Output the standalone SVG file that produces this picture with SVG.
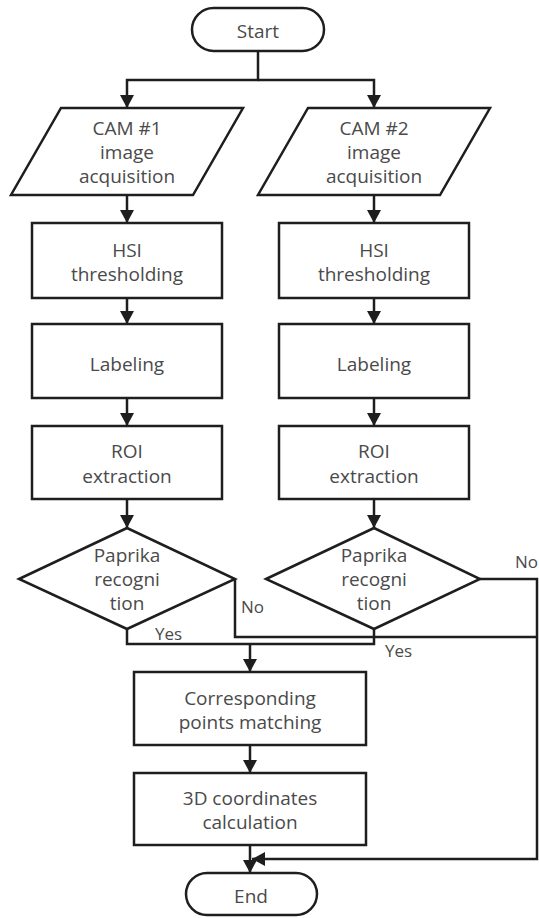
<svg xmlns="http://www.w3.org/2000/svg" width="539" height="918" viewBox="0 0 539 918">
<defs>
<style>
.s{fill:#fff;stroke:#1e1e1e;stroke-width:2.5}
.t{font-family:"Open Sans","Noto Sans",sans-serif;font-size:19px;fill:#4a4a4a;text-anchor:middle}
.l{font-family:"Open Sans","Noto Sans",sans-serif;font-size:17px;fill:#4a4a4a}
.c{fill:none;stroke:#1e1e1e;stroke-width:2.5}
</style>
<marker id="ah" viewBox="0 0 13 14" refX="13" refY="7" markerWidth="13" markerHeight="14" markerUnits="userSpaceOnUse" orient="auto">
<path d="M0,0 L13,7 L0,14 z" fill="#1e1e1e"/>
</marker>
</defs>
<rect width="539" height="918" fill="#fff"/>
<g id="connectors">
<path class="c" d="M258,51 V80 H127 V108" marker-end="url(#ah)"/>
<path class="c" d="M258,80 H374 V108" marker-end="url(#ah)"/>
<path class="c" d="M127,195 V223" marker-end="url(#ah)"/>
<path class="c" d="M374,195 V223" marker-end="url(#ah)"/>
<path class="c" d="M127,298 V324" marker-end="url(#ah)"/>
<path class="c" d="M374,298 V324" marker-end="url(#ah)"/>
<path class="c" d="M127,398 V426" marker-end="url(#ah)"/>
<path class="c" d="M374,398 V426" marker-end="url(#ah)"/>
<path class="c" d="M127,499 V528" marker-end="url(#ah)"/>
<path class="c" d="M374,499 V528" marker-end="url(#ah)"/>
<path class="c" d="M235,579 V637 H537"/>
<path class="c" d="M480,579 H537 V859 H252" marker-end="url(#ah)"/>
<path class="c" d="M127,629 V644 H374 V629"/>
<path class="c" d="M250,644 V672" marker-end="url(#ah)"/>
<path class="c" d="M250,745 V773" marker-end="url(#ah)"/>
<path class="c" d="M250,845 V873" marker-end="url(#ah)"/>
<text class="l" x="241" y="613">No</text>
<text class="l" x="515" y="568">No</text>
<text class="l" x="155" y="640">Yes</text>
<text class="l" x="385" y="657">Yes</text>
</g>
<g id="start">
<rect class="s" x="192" y="8" width="132" height="43" rx="21.5"/>
<text class="t" x="258" y="38">Start</text>
</g>
<g id="cam1">
<polygon class="s" points="61,108 243,108 193,195 11,195"/>
<text class="t" x="127" y="135">CAM #1</text>
<text class="t" x="127" y="159">image</text>
<text class="t" x="127" y="183">acquisition</text>
</g>
<g id="cam2">
<polygon class="s" points="308,108 490,108 440,195 258,195"/>
<text class="t" x="374" y="135">CAM #2</text>
<text class="t" x="374" y="159">image</text>
<text class="t" x="374" y="183">acquisition</text>
</g>
<g id="hsi1">
<rect class="s" x="32" y="223" width="190" height="75"/>
<text class="t" x="127" y="257">HSI</text>
<text class="t" x="127" y="281">thresholding</text>
</g>
<g id="hsi2">
<rect class="s" x="279" y="223" width="190" height="75"/>
<text class="t" x="374" y="257">HSI</text>
<text class="t" x="374" y="281">thresholding</text>
</g>
<g id="label1">
<rect class="s" x="32" y="324" width="190" height="74"/>
<text class="t" x="127" y="371">Labeling</text>
</g>
<g id="label2">
<rect class="s" x="279" y="324" width="190" height="74"/>
<text class="t" x="374" y="371">Labeling</text>
</g>
<g id="roi1">
<rect class="s" x="32" y="426" width="190" height="73"/>
<text class="t" x="127" y="458">ROI</text>
<text class="t" x="127" y="483">extraction</text>
</g>
<g id="roi2">
<rect class="s" x="279" y="426" width="190" height="73"/>
<text class="t" x="374" y="458">ROI</text>
<text class="t" x="374" y="483">extraction</text>
</g>
<g id="dec1">
<polygon class="s" points="19,579 127,528 235,579 127,629"/>
<text class="t" x="127" y="562">Paprika</text>
<text class="t" x="127" y="586">recogni</text>
<text class="t" x="127" y="610">tion</text>
</g>
<g id="dec2">
<polygon class="s" points="266,579 374,528 480,579 374,629"/>
<text class="t" x="374" y="562">Paprika</text>
<text class="t" x="374" y="586">recogni</text>
<text class="t" x="374" y="610">tion</text>
</g>
<g id="match">
<rect class="s" x="134" y="672" width="232" height="73"/>
<text class="t" x="250" y="705">Corresponding</text>
<text class="t" x="250" y="729">points matching</text>
</g>
<g id="coords">
<rect class="s" x="134" y="773" width="232" height="72"/>
<text class="t" x="250" y="805">3D coordinates</text>
<text class="t" x="250" y="829">calculation</text>
</g>
<g id="end">
<rect class="s" x="186" y="873" width="131" height="42" rx="21"/>
<text class="t" x="251" y="903">End</text>
</g>
</svg>
